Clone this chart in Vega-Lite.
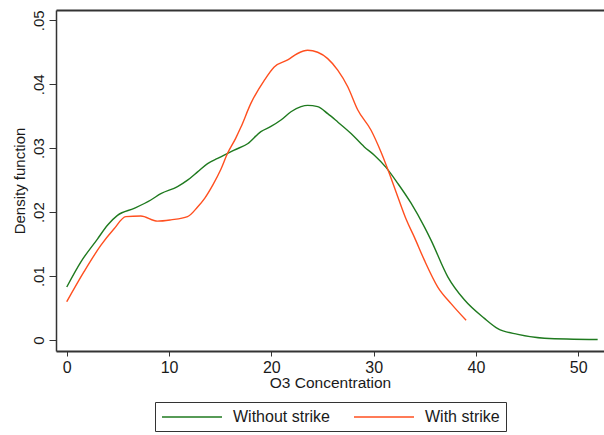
{
  "$schema": "https://vega.github.io/schema/vega-lite/v6.json",
  "width": 548,
  "height": 341,
  "autosize": "none",
  "padding": {"left": 56, "top": 10, "right": 0, "bottom": 84},
  "background": "white",
  "config": {
    "view": {"stroke": null},
    "font": "Liberation Sans",
    "axis": {"grid": false, "labelFont": "Liberation Sans", "titleFont": "Liberation Sans", "labelColor": "#1a1a1a", "titleColor": "#1a1a1a", "tickColor": "#333333", "domainColor": "#333333", "titleFontWeight": "normal"}
  },
  "data": {"values": [
    {"o3": 0, "density": 0.0083, "group": "Without strike"},
    {"o3": 1.37, "density": 0.0122, "group": "Without strike"},
    {"o3": 3.0, "density": 0.0158, "group": "Without strike"},
    {"o3": 4.0, "density": 0.0180, "group": "Without strike"},
    {"o3": 4.96, "density": 0.0195, "group": "Without strike"},
    {"o3": 6.59, "density": 0.0206, "group": "Without strike"},
    {"o3": 8.22, "density": 0.0219, "group": "Without strike"},
    {"o3": 9.2, "density": 0.0229, "group": "Without strike"},
    {"o3": 10.83, "density": 0.0240, "group": "Without strike"},
    {"o3": 11.81, "density": 0.0250, "group": "Without strike"},
    {"o3": 12.79, "density": 0.0263, "group": "Without strike"},
    {"o3": 13.77, "density": 0.0276, "group": "Without strike"},
    {"o3": 14.75, "density": 0.0284, "group": "Without strike"},
    {"o3": 15.39, "density": 0.0289, "group": "Without strike"},
    {"o3": 16.37, "density": 0.0297, "group": "Without strike"},
    {"o3": 17.68, "density": 0.0307, "group": "Without strike"},
    {"o3": 18.98, "density": 0.0326, "group": "Without strike"},
    {"o3": 19.96, "density": 0.0334, "group": "Without strike"},
    {"o3": 20.94, "density": 0.0344, "group": "Without strike"},
    {"o3": 21.92, "density": 0.0357, "group": "Without strike"},
    {"o3": 22.9, "density": 0.0365, "group": "Without strike"},
    {"o3": 23.55, "density": 0.0367, "group": "Without strike"},
    {"o3": 24.53, "density": 0.0365, "group": "Without strike"},
    {"o3": 25.51, "density": 0.0354, "group": "Without strike"},
    {"o3": 26.49, "density": 0.0341, "group": "Without strike"},
    {"o3": 27.79, "density": 0.0323, "group": "Without strike"},
    {"o3": 29.09, "density": 0.0302, "group": "Without strike"},
    {"o3": 30.07, "density": 0.0289, "group": "Without strike"},
    {"o3": 31.21, "density": 0.0270, "group": "Without strike"},
    {"o3": 32.36, "density": 0.0245, "group": "Without strike"},
    {"o3": 33.66, "density": 0.0214, "group": "Without strike"},
    {"o3": 34.96, "density": 0.0177, "group": "Without strike"},
    {"o3": 35.62, "density": 0.0156, "group": "Without strike"},
    {"o3": 37.25, "density": 0.0099, "group": "Without strike"},
    {"o3": 38.87, "density": 0.0063, "group": "Without strike"},
    {"o3": 40.83, "density": 0.0034, "group": "Without strike"},
    {"o3": 42.14, "density": 0.0018, "group": "Without strike"},
    {"o3": 44.1, "density": 0.0009, "group": "Without strike"},
    {"o3": 46.7, "density": 0.0003, "group": "Without strike"},
    {"o3": 51.9, "density": 0.0001, "group": "Without strike"},
    {"o3": 0, "density": 0.0060, "group": "With strike"},
    {"o3": 1.69, "density": 0.0107, "group": "With strike"},
    {"o3": 3.33, "density": 0.0148, "group": "With strike"},
    {"o3": 4.63, "density": 0.0174, "group": "With strike"},
    {"o3": 5.77, "density": 0.0193, "group": "With strike"},
    {"o3": 7.24, "density": 0.0194, "group": "With strike"},
    {"o3": 8.87, "density": 0.0186, "group": "With strike"},
    {"o3": 10.18, "density": 0.0188, "group": "With strike"},
    {"o3": 11.81, "density": 0.0193, "group": "With strike"},
    {"o3": 12.79, "density": 0.0208, "group": "With strike"},
    {"o3": 13.5, "density": 0.0222, "group": "With strike"},
    {"o3": 14.3, "density": 0.0243, "group": "With strike"},
    {"o3": 15.07, "density": 0.0267, "group": "With strike"},
    {"o3": 15.72, "density": 0.0292, "group": "With strike"},
    {"o3": 16.5, "density": 0.0315, "group": "With strike"},
    {"o3": 17.03, "density": 0.0333, "group": "With strike"},
    {"o3": 18.0, "density": 0.0370, "group": "With strike"},
    {"o3": 19.31, "density": 0.0406, "group": "With strike"},
    {"o3": 20.28, "density": 0.0427, "group": "With strike"},
    {"o3": 21.6, "density": 0.0438, "group": "With strike"},
    {"o3": 22.57, "density": 0.0448, "group": "With strike"},
    {"o3": 23.55, "density": 0.0453, "group": "With strike"},
    {"o3": 24.53, "density": 0.0450, "group": "With strike"},
    {"o3": 25.51, "density": 0.0440, "group": "With strike"},
    {"o3": 26.49, "density": 0.0422, "group": "With strike"},
    {"o3": 27.47, "density": 0.0396, "group": "With strike"},
    {"o3": 28.44, "density": 0.0360, "group": "With strike"},
    {"o3": 29.75, "density": 0.0328, "group": "With strike"},
    {"o3": 30.72, "density": 0.0294, "group": "With strike"},
    {"o3": 31.5, "density": 0.0262, "group": "With strike"},
    {"o3": 32.36, "density": 0.0224, "group": "With strike"},
    {"o3": 33.2, "density": 0.0188, "group": "With strike"},
    {"o3": 33.98, "density": 0.0161, "group": "With strike"},
    {"o3": 34.96, "density": 0.0125, "group": "With strike"},
    {"o3": 36.27, "density": 0.0083, "group": "With strike"},
    {"o3": 37.57, "density": 0.0057, "group": "With strike"},
    {"o3": 39.04, "density": 0.0031, "group": "With strike"}
  ]},
  "layer": [
    {
      "mark": {"type": "line", "strokeWidth": 1.4, "interpolate": "monotone"},
      "encoding": {
        "x": {"field": "o3", "type": "quantitative",
          "scale": {"domain": [-1.05, 52.52], "nice": false, "zero": false},
          "axis": {"values": [0, 10, 20, 30, 40, 50], "title": "O3 Concentration", "titleFontSize": 15.5, "titlePadding": 0, "labelFontSize": 16, "labelPadding": 3, "tickSize": 5, "domainWidth": 2, "labelFlush": false}},
        "y": {"field": "density", "type": "quantitative",
          "scale": {"domain": [-0.0017, 0.0516], "nice": false, "zero": false},
          "axis": {"values": [0, 0.01, 0.02, 0.03, 0.04, 0.05], "labelExpr": "datum.value == 0 ? '0' : replace(format(datum.value, '.2f'), '0.', '.')", "labelAngle": -90, "labelAlign": "center", "labelBaseline": "bottom", "labelFontSize": 15, "labelPadding": 3, "tickSize": 7, "domainWidth": 1.5, "title": "Density function", "titleFontSize": 15, "titlePadding": 4, "labelFlush": false}},
        "color": {"field": "group", "type": "nominal",
          "scale": {"domain": ["Without strike", "With strike"], "range": ["#1f7a1f", "#ff4f1f"]},
          "legend": {"orient": "none", "legendX": 99, "legendY": 392, "direction": "horizontal", "title": null, "symbolType": "M-1,0H6.5", "symbolSize": 256, "symbolStrokeWidth": 1.5, "labelFontSize": 16, "labelFont": "Liberation Sans", "labelColor": "#1a1a1a", "labelOffset": 54, "columnPadding": 21, "padding": 6, "strokeColor": "#333333", "fillColor": "white"}}
      }
    },
    {
      "mark": {"type": "rule", "opacity": 0},
      "encoding": {
        "x": {"field": "o3", "type": "quantitative",
          "axis": {"orient": "top", "labels": false, "ticks": false, "title": null, "domainWidth": 2}}
      }
    }
  ],
  "resolve": {"axis": {"x": "independent"}}
}
